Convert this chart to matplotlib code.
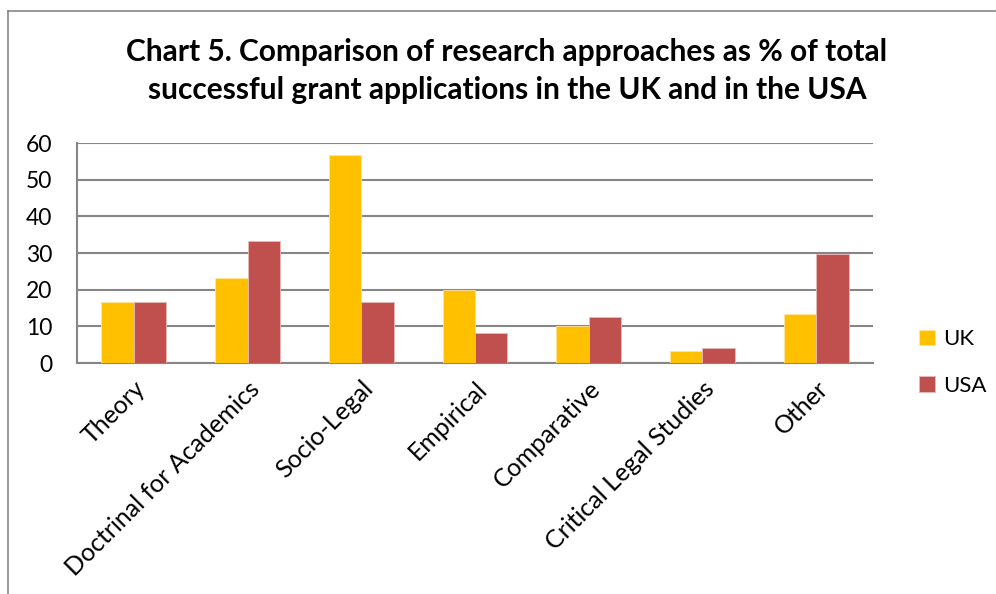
import numpy as np
import matplotlib.pyplot as plt
from matplotlib.lines import Line2D

plt.rcParams['font.family'] = ['Lato', 'DejaVu Sans']

categories = ["Theory", "Doctrinal for Academics", "Socio-Legal", "Empirical",
              "Comparative", "Critical Legal Studies", "Other"]
uk = [16.7, 23.3, 56.7, 20.0, 10.0, 3.3, 13.3]
usa = [16.7, 33.3, 16.7, 8.3, 12.5, 4.2, 29.7]

fig = plt.figure(figsize=(9.96, 5.94), dpi=100)
ax = fig.add_axes([77 / 996, 1 - 363 / 594, (873 - 77) / 996, 220 / 594])

x = np.arange(len(categories))
w = 1 / 3.5
ax.bar(x - w / 2, uk, w, color="#FFC000", edgecolor="#FFE59A", linewidth=0.6, label="UK", zorder=3)
ax.bar(x + w / 2, usa, w, color="#C0504D", edgecolor="#E6B9B8", linewidth=0.6, label="USA", zorder=3)

ax.set_xlim(-0.5, len(categories) - 0.5)
ax.set_ylim(0, 60)
ax.set_yticks(range(0, 61, 10))
ax.yaxis.grid(True, color="#868686", linewidth=1.5, zorder=0)
ax.tick_params(axis="y", length=0, pad=18, labelsize=16.5)
ax.tick_params(axis="x", length=0, pad=10)
for s in ["top", "right"]:
    ax.spines[s].set_visible(False)
for s in ["left", "bottom"]:
    ax.spines[s].set_color("#868686")
    ax.spines[s].set_linewidth(1.5)

ax.set_xticks(x)
ax.set_xticklabels(categories, rotation=45, ha="right", va="top",
                   rotation_mode="anchor", fontsize=18)

fig.text(0.509, 1 - 71 / 594,
         "Chart 5. Comparison of research approaches as % of total\nsuccessful grant applications in the UK and in the USA",
         ha="center", va="center", fontsize=21.5, fontweight="bold", linespacing=1.4)

ax.legend(loc="upper left", bbox_to_anchor=(908 / 996, 1 - 318 / 594),
          bbox_transform=fig.transFigure, frameon=False, fontsize=16,
          handlelength=0.7, handleheight=0.7, handletextpad=0.4,
          labelspacing=1.2, borderpad=0)

# outer chart frame
fig.add_artist(Line2D([8 / 996, 8 / 996], [0, 1 - 11 / 594], color="#868686", linewidth=1.2))
fig.add_artist(Line2D([8 / 996, 1], [1 - 11 / 594, 1 - 11 / 594], color="#868686", linewidth=1.2))

fig.savefig("out.png", dpi=100)
